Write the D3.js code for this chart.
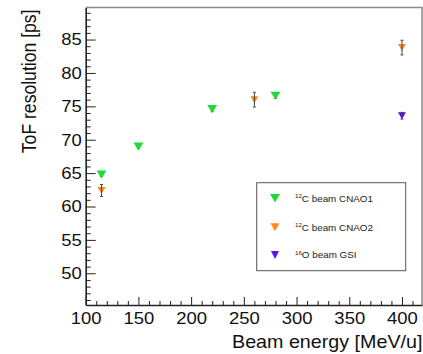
<!DOCTYPE html>
<html>
<head>
<meta charset="utf-8">
<script src="https://cdn.jsdelivr.net/npm/d3@7"></script>
<style>
  html, body { margin: 0; padding: 0; background: #fff; }
  svg { display: block; font-family: "Liberation Sans", Arial, Helvetica, sans-serif; }
</style>
</head>
<body>
<div id="chart"></div>
<script>
// ToF resolution vs beam energy, three beam campaigns

// 12C beam CNAO1
var cnao1Energy = [115, 150, 220, 280];
var cnao1Res    = [64.8, 69.0, 74.6, 76.6];
var cnao1Err    = [0.3, 0.3, 0.4, 0.4];

// 12C beam CNAO2
var cnao2Energy = [115, 260, 400];
var cnao2Res    = [62.4, 76.0, 83.8];
var cnao2Err    = [0.9, 1.1, 1.1];

// 16O beam GSI
var gsiEnergy = [400];
var gsiRes    = [73.6];
var gsiErr    = [0.5];

var xMajor = [100, 150, 200, 250, 300, 350, 400];
var yMajor = [50, 55, 60, 65, 70, 75, 80, 85];

var series = [
  {sup: "12", name: "C beam CNAO1", color: "#1ddc3a", x: cnao1Energy, y: cnao1Res, e: cnao1Err, w: 10, h: 8, barsOnTop: false},
  {sup: "12", name: "C beam CNAO2", color: "#ff8a1e", x: cnao2Energy, y: cnao2Res, e: cnao2Err, w: 8, h: 7, barsOnTop: true},
  {sup: "16", name: "O beam GSI",   color: "#5a12f2", x: gsiEnergy,   y: gsiRes,   e: gsiErr,   w: 8, h: 7, barsOnTop: true}
];

// legend marker sizes [w, h]
var legendMarker = [[10, 8.5], [9, 8], [8, 8]];

var W = 423, H = 354;
var plotL = 85.7, plotR = 422, plotT = 7.5, plotB = 305;
var sx = 1.12;   // glyphs are a little wider than tall

var svg = d3.select("#chart").append("svg")
    .attr("width", W)
    .attr("height", H);

var x = d3.scaleLinear().domain([100, 419]).range([plotL, plotR]);
var y = d3.scaleLinear().domain([45.25, 89.8]).range([plotB, plotT]);

// frame (top and right lines)
svg.append("path")
    .attr("d", "M" + plotL + "," + plotT + "H" + plotR + "V" + plotB)
    .attr("fill", "none")
    .attr("stroke", "#8a8a8a")
    .attr("stroke-width", 1.5);

// minor ticks
var xMinor = d3.range(100, 420, 10).filter(function(v) { return v % 50 !== 0; });
var yMinor = d3.range(46, 90, 1).filter(function(v) { return v % 5 !== 0; });

svg.append("g")
    .attr("transform", "translate(0," + plotB + ")")
    .call(d3.axisBottom(x).tickValues(xMinor).tickSize(-4).tickFormat(""))
    .call(function(g) { g.select(".domain").remove(); })
    .selectAll("line").attr("stroke", "#222");

svg.append("g")
    .attr("transform", "translate(" + plotL + ",0)")
    .call(d3.axisLeft(y).tickValues(yMinor).tickSize(-5).tickFormat(""))
    .call(function(g) { g.select(".domain").remove(); })
    .selectAll("line").attr("stroke", "#222");

// major ticks + labels
var xAxis = svg.append("g")
    .attr("transform", "translate(0," + plotB + ")")
    .call(d3.axisBottom(x).tickValues(xMajor).tickSize(-8).tickSizeOuter(0).tickPadding(6.8).tickFormat(d3.format("d")));
xAxis.select(".domain").attr("stroke", "#222").attr("stroke-width", 1.6);
xAxis.selectAll("line").attr("stroke", "#222");
xAxis.selectAll("text")
    .attr("font-size", 16.5)
    .attr("fill", "#111")
    .attr("transform", "scale(" + sx + ",1)");

var yAxis = svg.append("g")
    .attr("transform", "translate(" + plotL + ",0)")
    .call(d3.axisLeft(y).tickValues(yMajor).tickSize(-10).tickSizeOuter(0).tickPadding(3.6).tickFormat(d3.format("d")));
yAxis.select(".domain").attr("stroke", "#222").attr("stroke-width", 1.6);
yAxis.selectAll("line").attr("stroke", "#222");
yAxis.selectAll("text")
    .attr("font-size", 16.5)
    .attr("fill", "#111")
    .attr("transform", "scale(" + sx + ",1)");

// axis titles
svg.append("text")
    .attr("transform", "translate(422.5,348) scale(" + sx + ",1)")
    .attr("text-anchor", "end")
    .attr("font-size", 17.6)
    .attr("fill", "#111")
    .text("Beam energy [MeV/u]");

svg.append("text")
    .attr("transform", "translate(35.5,9.5) scale(" + sx + ",1) rotate(-90)")
    .attr("text-anchor", "end")
    .attr("font-size", 17.6)
    .attr("fill", "#111")
    .text("ToF resolution [ps]");

// downward triangle centred on (cx, cy)
function triDown(cx, cy, w, h) {
  return "M" + (cx - w / 2) + "," + (cy - h / 2) +
         "L" + (cx + w / 2) + "," + (cy - h / 2) +
         "L" + cx + "," + (cy + h / 2) + "Z";
}

function drawBars(g, s) {
  var pts = s.x.map(function(v, i) { return {x: v, y: s.y[i], e: s.e[i]}; });
  var bars = g.append("g").attr("stroke", "#444").attr("stroke-width", 1);
  bars.selectAll("line.v").data(pts).enter().append("line")
      .attr("x1", function(d) { return x(d.x); })
      .attr("x2", function(d) { return x(d.x); })
      .attr("y1", function(d) { return y(d.y + d.e); })
      .attr("y2", function(d) { return y(d.y - d.e); });
  bars.selectAll("line.t").data(pts).enter().append("line")
      .attr("x1", function(d) { return x(d.x) - 1.5; })
      .attr("x2", function(d) { return x(d.x) + 1.5; })
      .attr("y1", function(d) { return y(d.y + d.e); })
      .attr("y2", function(d) { return y(d.y + d.e); });
  bars.selectAll("line.b").data(pts).enter().append("line")
      .attr("x1", function(d) { return x(d.x) - 1.5; })
      .attr("x2", function(d) { return x(d.x) + 1.5; })
      .attr("y1", function(d) { return y(d.y - d.e); })
      .attr("y2", function(d) { return y(d.y - d.e); });
}

series.forEach(function(s) {
  var g = svg.append("g");
  if (!s.barsOnTop) drawBars(g, s);
  g.selectAll("path.m").data(s.x).enter().append("path")
      .attr("d", function(v, i) { return triDown(x(v), y(s.y[i]), s.w, s.h); })
      .attr("fill", s.color);
  if (s.barsOnTop) drawBars(g, s);
});

// legend
var lg = svg.append("g");
lg.append("rect")
    .attr("x", 256.7).attr("y", 182.7)
    .attr("width", 149).attr("height", 88)
    .attr("fill", "#fff")
    .attr("stroke", "#555")
    .attr("stroke-width", 1);

var rowY = [198.3, 227.3, 255];
series.forEach(function(s, i) {
  lg.append("path")
      .attr("d", triDown(275, rowY[i], legendMarker[i][0], legendMarker[i][1]))
      .attr("fill", s.color);
  var t = lg.append("text")
      .attr("transform", "translate(295," + (rowY[i] + 3.2) + ") scale(" + sx + ",1)")
      .attr("fill", "#222");
  t.append("tspan").attr("font-size", 5.5).attr("dy", -3.6).text(s.sup);
  t.append("tspan").attr("font-size", 8.8).attr("dy", 3.6).text(s.name);
});
</script>
</body>
</html>
